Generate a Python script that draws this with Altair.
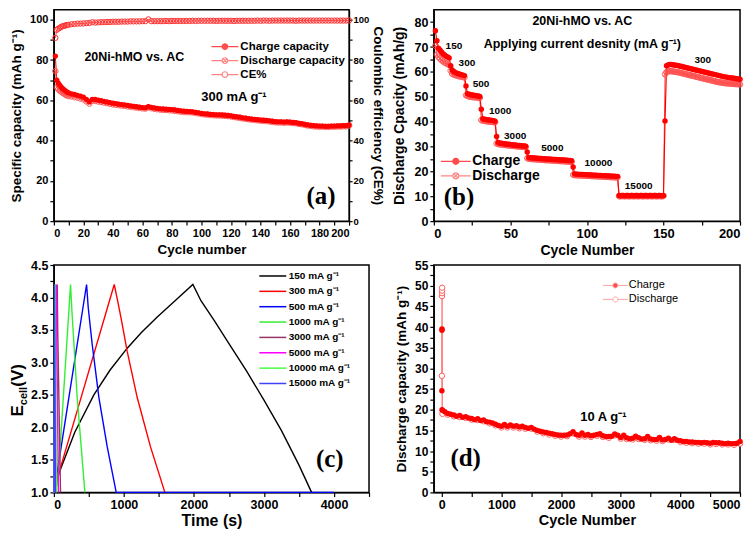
import altair as alt
import pandas as pd

FONT = "Liberation Sans"
SERIF = "Liberation Serif"
RED = "#FF0000"
PINK = "#FF5050"
DLINE = "#FF8080"

# ---------------- (a) cycling at 300 mA g-1 ----------------
a_cycles = [1, 2, 3, 4, 5, 6, 7, 8, 9, 10] + list(range(12, 201, 2))
a_charge = [
    82.0, 70.0, 68.5, 67.5, 66.5, 65.8, 65.2, 64.6, 64.1, 63.7,
    63.2, 62.9, 62.5, 62.1, 61.6, 60.5, 59.3, 60.5, 60.4, 60.1,
    59.8, 59.5, 59.2, 58.9, 58.6, 58.4, 58.1, 57.9, 57.7, 57.5,
    57.2, 57.0, 56.8, 56.6, 56.4, 56.3, 56.9, 56.5, 56.2, 56.0,
    55.8, 55.7, 55.6, 55.5, 55.4, 55.2, 55.0, 54.8, 54.6, 54.5,
    54.4, 54.3, 54.0, 53.8, 53.5, 53.3, 53.2, 53.0, 52.9, 52.8,
    52.8, 52.7, 52.6, 52.5, 52.3, 52.0, 51.8, 51.6, 51.3, 51.1,
    50.9, 50.7, 50.5, 50.4, 50.2, 50.1, 50.0, 49.8, 49.6, 49.4,
    49.3, 49.3, 49.2, 49.3, 49.2, 49.0, 48.9, 48.6, 48.4, 48.1,
    47.8, 47.6, 47.4, 47.3, 47.2, 47.2, 47.1, 47.1, 47.2, 47.2,
    47.3, 47.3, 47.4, 47.4, 47.8]
a_discharge = [
    74.5, 66.5, 65.5, 64.8, 64.2, 63.7, 63.2, 62.8, 62.4, 62.1,
    61.9, 61.6, 61.3, 60.9, 60.5, 59.5, 58.4, 59.8, 59.7, 59.4,
    59.2, 58.9, 58.6, 58.3, 58.0, 57.8, 57.6, 57.4, 57.2, 57.0,
    56.8, 56.6, 56.4, 56.2, 56.0, 55.9, 56.5, 56.1, 55.8, 55.6,
    55.4, 55.3, 55.2, 55.1, 55.0, 54.8, 54.6, 54.4, 54.2, 54.1,
    54.1, 54.0, 53.7, 53.5, 53.2, 53.0, 52.9, 52.7, 52.6, 52.5,
    52.5, 52.4, 52.3, 52.2, 52.0, 51.7, 51.5, 51.3, 51.0, 50.8,
    50.6, 50.4, 50.2, 50.1, 49.9, 49.8, 49.7, 49.5, 49.3, 49.1,
    49.0, 49.0, 48.9, 49.0, 48.9, 48.7, 48.6, 48.3, 48.1, 47.8,
    47.5, 47.3, 47.1, 47.0, 46.9, 46.9, 46.8, 46.8, 46.9, 46.9,
    47.0, 47.0, 47.1, 47.1, 47.5]
a_ce = [
    91.0, 95.0, 95.6, 96.0, 96.5, 96.8, 97.0, 97.2, 97.4, 97.5,
    97.8, 97.9, 98.1, 98.1, 98.2, 98.3, 98.4, 98.8, 98.6, 98.7,
    98.8, 98.8, 98.9, 98.9, 99.0, 99.0, 99.0, 99.1, 99.1, 99.1,
    99.2, 99.2, 99.2, 99.2, 99.3, 99.3, 100.2, 99.3, 99.3, 99.3,
    99.3, 99.3, 99.4, 99.3, 99.4, 99.4, 99.4, 99.4, 99.4, 99.4,
    99.4, 99.5, 99.4, 99.5, 99.5, 99.5, 99.5, 99.5, 99.5, 99.4,
    99.5, 99.5, 99.5, 99.5, 99.5, 99.4, 99.5, 99.5, 99.5, 99.5,
    99.5, 99.5, 99.5, 99.6, 99.5, 99.6, 99.6, 99.5, 99.6, 99.6,
    99.6, 99.6, 99.6, 99.6, 99.6, 99.6, 99.5, 99.6, 99.6, 99.6,
    99.6, 99.6, 99.6, 99.6, 99.6, 99.6, 99.6, 99.6, 99.6, 99.6,
    99.6, 99.6, 99.6, 99.6, 99.7]
a_legend = ["Charge capacity", "Discharge capacity", "CE%"]
a_x_ticks = [0, 10, 20, 30, 40, 50, 60, 70, 80, 90, 100, 110, 120, 130, 140, 150, 160, 170, 180, 190, 200]
a_y_ticks = [0, 10, 20, 30, 40, 50, 60, 70, 80, 90, 100]

# ---------------- (b) rate capability ----------------
b_cycles = list(range(1, 201))
b_charge = [
    76.5, 72.5, 69.5, 68.8, 68.0, 67.3, 66.8, 66.3, 66.0, 65.6,
    62.5, 60.8, 60.2, 59.8, 59.5, 59.3, 59.1, 58.9, 58.7, 58.5,
    54.3, 51.2, 51.0, 50.8, 50.7, 50.6, 50.5, 50.4, 50.3, 50.1,
    45.0, 41.2, 41.0, 40.9, 40.8, 40.7, 40.6, 40.5, 40.4, 40.2,
    34.0, 31.6, 31.4, 31.3, 31.2, 31.1, 31.0, 30.9, 30.9, 30.8,
    30.7, 30.6, 30.6, 30.5, 30.4, 30.4, 30.3, 30.2, 30.2, 30.1,
    27.8, 25.6, 25.5, 25.5, 25.4, 25.4, 25.3, 25.3, 25.2, 25.2,
    25.1, 25.1, 25.0, 25.0, 25.0, 24.9, 24.9, 24.8, 24.8, 24.8,
    24.7, 24.7, 24.6, 24.6, 24.6, 24.5, 24.5, 24.4, 24.4, 24.3,
    21.8, 19.0, 18.9, 18.9, 18.8, 18.8, 18.8, 18.7, 18.7, 18.7,
    18.6, 18.6, 18.6, 18.5, 18.5, 18.5, 18.4, 18.4, 18.4, 18.3,
    18.3, 18.3, 18.2, 18.2, 18.2, 18.1, 18.1, 18.1, 18.0, 18.0,
    10.3, 10.2, 10.3, 10.3, 10.2, 10.3, 10.3, 10.2, 10.3, 10.3,
    10.2, 10.3, 10.3, 10.2, 10.3, 10.3, 10.2, 10.3, 10.3, 10.2,
    10.3, 10.3, 10.2, 10.3, 10.3, 10.2, 10.3, 10.3, 10.2, 10.3,
    40.3, 62.5, 62.8, 63.0, 63.0, 62.9, 62.8, 62.7, 62.6, 62.5,
    62.3, 62.2, 62.0, 61.9, 61.7, 61.6, 61.4, 61.3, 61.1, 61.0,
    60.8, 60.7, 60.5, 60.4, 60.2, 60.1, 59.9, 59.8, 59.6, 59.5,
    59.3, 59.2, 59.0, 58.9, 58.7, 58.6, 58.4, 58.3, 58.1, 58.0,
    57.9, 57.8, 57.7, 57.6, 57.5, 57.4, 57.3, 57.2, 57.1, 57.0]
b_discharge = [
    70.5, 67.0, 66.0, 65.3, 64.7, 64.2, 63.8, 63.4, 63.1, 62.8,
    60.5, 59.2, 58.9, 58.7, 58.5, 58.3, 58.2, 58.0, 57.9, 57.8,
    50.6, 50.3, 50.1, 50.0, 49.9, 49.8, 49.8, 49.7, 49.6, 49.5,
    40.6, 40.4, 40.3, 40.2, 40.1, 40.0, 40.0, 39.9, 39.8, 39.7,
    31.2, 31.0, 30.9, 30.8, 30.7, 30.6, 30.6, 30.5, 30.4, 30.4,
    30.3, 30.2, 30.2, 30.1, 30.0, 30.0, 29.9, 29.9, 29.8, 29.8,
    25.3, 25.1, 25.0, 25.0, 24.9, 24.9, 24.8, 24.8, 24.7, 24.7,
    24.6, 24.6, 24.5, 24.5, 24.5, 24.4, 24.4, 24.3, 24.3, 24.3,
    24.2, 24.2, 24.1, 24.1, 24.1, 24.0, 24.0, 23.9, 23.9, 23.8,
    18.6, 18.5, 18.5, 18.4, 18.4, 18.4, 18.3, 18.3, 18.3, 18.2,
    18.2, 18.2, 18.1, 18.1, 18.1, 18.0, 18.0, 18.0, 17.9, 17.9,
    17.9, 17.8, 17.8, 17.8, 17.7, 17.7, 17.7, 17.6, 17.6, 17.6,
    10.0, 10.0, 10.1, 10.0, 10.0, 10.1, 10.0, 10.0, 10.1, 10.0,
    10.0, 10.1, 10.0, 10.0, 10.1, 10.0, 10.0, 10.1, 10.0, 10.0,
    10.1, 10.0, 10.0, 10.1, 10.0, 10.0, 10.1, 10.0, 10.0, 10.1,
    59.0, 60.0, 60.2, 60.3, 60.3, 60.2, 60.1, 60.0, 59.9, 59.8,
    59.6, 59.5, 59.3, 59.2, 59.0, 58.9, 58.7, 58.6, 58.4, 58.3,
    58.1, 58.0, 57.8, 57.7, 57.5, 57.4, 57.2, 57.1, 56.9, 56.8,
    56.6, 56.5, 56.3, 56.2, 56.0, 55.9, 55.8, 55.7, 55.6, 55.5,
    55.4, 55.4, 55.3, 55.3, 55.2, 55.2, 55.1, 55.1, 55.0, 55.0]
b_rates = ["150", "300", "500", "1000", "3000", "5000", "10000", "15000", "300"]
b_rate_x = [13.1, 21.6, 30.8, 43.3, 53.1, 77.4, 107.5, 133.8, 175.7]
b_rate_y = [70.3, 63.4, 55.3, 44.4, 34.4, 29.4, 23.2, 14.3, 64.9]
b_legend = ["Charge", "Discharge"]
b_x_ticks = [0, 25, 50, 75, 100, 125, 150, 175, 200]
b_y_ticks = [0, 5, 10, 15, 20, 25, 30, 35, 40, 45, 50, 55, 60, 65, 70, 75, 80]

# ---------------- (c) charge-discharge curves ----------------
c_names = ["150 mA g⁻¹", "300 mA g⁻¹", "500 mA g⁻¹", "1000 mA g⁻¹",
           "3000 mA g⁻¹", "5000 mA g⁻¹", "10000 mA g⁻¹", "15000 mA g⁻¹"]
c_colors = ["#000000", "#FF0000", "#0000FF", "#33EE33", "#993366", "#FF00FF", "#44FF44", "#4040FF"]
c_time = [
    [0, 71, 300, 571, 800, 1047, 1250, 1476, 1750, 1985, 2100, 2300, 2500, 2750, 3000, 3250, 3500, 3680],
    [0, 86, 405, 862, 905, 960, 1047, 1190, 1380, 1585],
    [0, 30, 214, 467, 490, 547, 643, 762, 890, 4000],
    [0, 57, 135, 238, 260, 333, 390, 443],
    [0, 5, 48, 55, 95],
    [0, 3, 35, 40, 65],
    [0, 2, 18, 21, 38],
    [0, 1, 10, 12, 22],
]
c_volt = [
    [1.0, 1.29, 1.93, 2.50, 2.88, 3.22, 3.46, 3.70, 3.97, 4.2, 3.95, 3.63, 3.29, 2.87, 2.42, 1.95, 1.42, 1.0],
    [1.0, 1.35, 2.52, 4.2, 3.98, 3.68, 3.17, 2.46, 1.7, 1.0],
    [1.0, 1.19, 2.46, 4.2, 3.85, 3.28, 2.46, 1.7, 1.0, 1.0],
    [1.0, 1.14, 2.46, 4.2, 3.75, 2.46, 1.7, 1.0],
    [1.0, 1.3, 4.2, 3.5, 1.0],
    [1.0, 1.3, 4.2, 3.6, 1.0],
    [1.0, 1.3, 4.2, 3.7, 1.0],
    [1.0, 1.3, 4.2, 3.8, 1.0],
]
c_x_ticks = [0, 500, 1000, 1500, 2000, 2500, 3000, 3500, 4000, 4500]
c_y_ticks = [1.0, 1.25, 1.5, 1.75, 2.0, 2.25, 2.5, 2.75, 3.0, 3.25, 3.5, 3.75, 4.0, 4.25, 4.5]

# ---------------- (d) long cycling at 10 A g-1 ----------------
d_charge_cycles = [1, 2, 3, 4, 10] + list(range(50, 5001, 50))
d_charge = [
    24.6, 39.2, 39.5, 20.0, 19.9,
    19.5, 19.1, 18.9, 18.7, 18.4, 18.6, 18.2, 18.3, 18.0, 17.9,
    17.6, 17.8, 17.4, 17.5, 17.1, 17.0, 16.8, 16.5, 16.2, 16.0,
    16.4, 16.0, 16.3, 16.0, 16.1, 15.8, 16.0, 15.7, 15.5, 15.7,
    15.3, 15.0, 14.8, 14.6, 14.5, 14.3, 14.2, 14.0, 13.9, 13.8,
    13.8, 13.9, 14.2, 14.7, 14.0, 13.8, 14.4, 13.8, 14.0, 13.7,
    13.8, 14.0, 14.2, 13.7, 13.5, 13.5, 13.6, 14.1, 13.8, 13.3,
    13.8, 13.2, 13.0, 13.1, 13.6, 13.2, 12.9, 13.0, 13.5, 12.9,
    12.8, 12.8, 13.3, 12.7, 12.8, 13.1, 12.6, 13.0, 12.6, 12.5,
    12.3, 12.3, 12.2, 12.2, 12.1, 12.1, 12.0, 12.1, 12.0, 11.9,
    12.1, 12.0, 12.0, 11.9, 11.8, 11.9, 11.8, 11.8, 11.9, 12.3]
d_dis_cycles = [1, 2, 3, 4, 5, 10] + list(range(100, 5001, 100))
d_discharge = [
    28.2, 47.5, 48.2, 48.8, 49.5, 19.0,
    18.8, 18.4, 18.2, 18.0, 17.6, 17.5, 17.2, 16.7, 16.2, 15.7,
    15.7, 15.7, 15.5, 15.4, 15.4, 14.7, 14.3, 14.0, 13.7, 13.5,
    13.6, 14.3, 13.5, 13.5, 13.4, 13.7, 13.4, 13.2, 13.8, 13.0,
    12.9, 12.8, 12.9, 12.7, 12.6, 12.5, 12.4, 12.8, 12.7, 12.2,
    12.0, 11.9, 11.8, 11.8, 11.6, 11.7, 11.6, 11.6, 11.5, 11.8]
d_legend = ["Charge", "Discharge"]
d_x_ticks = [0, 500, 1000, 1500, 2000, 2500, 3000, 3500, 4000, 4500, 5000]
d_y_ticks = [0, 2.5, 5, 7.5, 10, 12.5, 15, 17.5, 20, 22.5, 25, 27.5, 30, 32.5, 35, 37.5,
             40, 42.5, 45, 47.5, 50, 52.5, 55]

# ---------------- helpers ----------------
CROSS_PT = "M1,0A1,1 0 1,1 -1,0A1,1 0 1,1 1,0ZM0.7,0.7L-0.7,-0.7M-0.7,0.7L0.7,-0.7"


def leg_path(L, r, cross=False):
    p = f"M{-L},0L{-r},0M{r},0L{L},0M{r},0A{r},{r} 0 1,1 {-r},0A{r},{r} 0 1,1 {r},0Z"
    if cross:
        c = round(r * 0.7, 3)
        p += f"M{c},{c}L{-c},{-c}M{-c},{c}L{c},{-c}"
    return p


def legend_layer(names, shapes, fills, strokes, lx, ly, fsize, weight, offset, rowpad, sw=1.2):
    leg = alt.Legend(title=None, orient="none", legendX=lx, legendY=ly, labelFontSize=fsize,
                     labelFont=FONT, labelFontWeight=weight, labelColor="black",
                     symbolSize=100, symbolStrokeWidth=sw, symbolFillColor="white",
                     symbolStrokeColor=RED, labelOffset=offset, rowPadding=rowpad, padding=0)
    df = pd.DataFrame({"s": names})
    return alt.Chart(df).transform_filter("false").mark_point(size=100, strokeWidth=sw).encode(
        shape=alt.Shape("s:N", scale=alt.Scale(domain=names, range=shapes), legend=leg),
        fill=alt.Fill("s:N", scale=alt.Scale(domain=names, range=fills), legend=leg),
        stroke=alt.Stroke("s:N", scale=alt.Scale(domain=names, range=strokes), legend=leg),
    )


def text_layer(labels, xs, ys, xenc, yenc, size, font=FONT, weight="bold"):
    df = pd.DataFrame({"x": xs, "y": ys, "t": labels})
    return alt.Chart(df).mark_text(font=font, fontSize=size, fontWeight=weight, color="black",
                                   align="center", baseline="middle").encode(
        x=xenc("x"), y=yenc("y"), text="t:N")


def mk_x(scale, axis):
    return lambda f: alt.X(f, type="quantitative", scale=scale, axis=axis)


def mk_y(scale, axis):
    return lambda f: alt.Y(f, type="quantitative", scale=scale, axis=axis)


# ---------------- panel (a) ----------------
a_df = pd.DataFrame({"cycle": a_cycles, "charge": a_charge, "discharge": a_discharge, "ce": a_ce})
xa = mk_x(alt.Scale(domain=[0, 200], nice=False),
          alt.Axis(values=a_x_ticks, labelExpr="datum.value % 20 == 0 ? datum.label : ''",
                   title="Cycle number", labelFontSize=11, titleFontSize=13.5, tickSize=4,
                   labelPadding=2, titlePadding=4))
ya = mk_y(alt.Scale(domain=[0, 105], nice=False),
          alt.Axis(values=a_y_ticks, labelExpr="datum.value % 20 == 0 ? datum.label : ''",
                   title="Specific capacity (mAh g⁻¹)", labelFontSize=11, titleFontSize=13.5,
                   tickSize=4, labelPadding=2, titlePadding=6))
ya2 = mk_y(alt.Scale(domain=[0, 105], nice=False),
           alt.Axis(orient="right", values=a_y_ticks, labelExpr="datum.value % 20 == 0 ? datum.label : ''",
                    title="Coulombic efficiency (CE%)", labelFontSize=9.5, titleFontSize=13.5,
                    tickSize=3, labelPadding=1, titlePadding=2))
base_a = alt.Chart(a_df)
cap_a = alt.layer(
    base_a.mark_line(color=RED, strokeWidth=1).encode(x=xa("cycle"), y=ya("charge")),
    base_a.mark_line(color=PINK, strokeWidth=1).encode(x=xa("cycle"), y=ya("discharge")),
    base_a.mark_point(shape=CROSS_PT, size=30, filled=False, color=PINK, strokeWidth=1, opacity=1).encode(
        x=xa("cycle"), y=ya("discharge")),
    base_a.mark_point(shape="circle", size=28, filled=True, color=RED, opacity=1).encode(
        x=xa("cycle"), y=ya("charge")),
    text_layer(["20Ni-hMO vs. AC"], [54.5], [81.4], xa, ya, 12.5),
    text_layer(["300 mA g⁻¹"], [122], [61.6], xa, ya, 13),
    text_layer(["(a)"], [181], [12.5], xa, ya, 25, font=SERIF),
    legend_layer(a_legend, [leg_path(2.7, 0.56), leg_path(2.7, 0.56, True), leg_path(2.7, 0.56)],
                 [RED, "white", "white"], [RED, PINK, PINK],
                 165.5, 31, 11.5, "bold", 9.5, 2),
)
ce_a = alt.layer(
    base_a.mark_line(color=PINK, strokeWidth=1).encode(x=xa("cycle"), y=ya2("ce")),
    base_a.mark_point(shape="circle", size=28, filled=False, color="#FF3030", strokeWidth=1, opacity=1).encode(
        x=xa("cycle"), y=ya2("ce")),
)
panel_a = alt.layer(cap_a, ce_a).resolve_scale(y="independent").properties(width=296, height=212)

# ---------------- panel (b) ----------------
b_df = pd.DataFrame({"cycle": b_cycles, "charge": b_charge, "discharge": b_discharge})
xb = mk_x(alt.Scale(domain=[0, 200], nice=False),
          alt.Axis(values=b_x_ticks, labelExpr="datum.value % 50 == 0 ? datum.label : ''",
                   title="Cycle Number", labelFontSize=13, titleFontSize=14, tickSize=4,
                   labelPadding=2, titlePadding=3))
yb = mk_y(alt.Scale(domain=[0, 85], nice=False),
          alt.Axis(values=b_y_ticks, labelExpr="datum.value % 10 == 0 ? datum.label : ''",
                   title="Discharge Cpacity (mAh/g)", labelFontSize=12.5, titleFontSize=14,
                   tickSize=4, labelPadding=2, titlePadding=8))
base_b = alt.Chart(b_df)
panel_b = alt.layer(
    base_b.mark_line(color=PINK, strokeWidth=1).encode(x=xb("cycle"), y=yb("discharge")),
    base_b.mark_line(color=RED, strokeWidth=1.2).encode(x=xb("cycle"), y=yb("charge")),
    base_b.mark_point(shape=CROSS_PT, size=30, filled=False, color=PINK, strokeWidth=1, opacity=1).encode(
        x=xb("cycle"), y=yb("discharge")),
    base_b.mark_point(shape="circle", size=30, filled=True, color=RED, opacity=1).encode(
        x=xb("cycle"), y=yb("charge")),
    text_layer(["20Ni-hMO vs. AC"], [97], [80.4], xb, yb, 12.5),
    text_layer(["Applying current desnity (mA g⁻¹)"], [97], [71.1], xb, yb, 12.5),
    text_layer(b_rates, b_rate_x, b_rate_y, xb, yb, 10),
    text_layer(["(b)"], [16.4], [9.7], xb, yb, 25, font=SERIF),
    legend_layer(b_legend, [leg_path(3, 0.6), leg_path(3, 0.6, True)],
                 [RED, "white"], [RED, PINK], 15, 145, 14, "bold", 9.5, 0.6),
).properties(width=307, height=212)

# ---------------- panel (c) ----------------
c_rows = []
for name, ts, vs in zip(c_names, c_time, c_volt):
    for t, v in zip(ts, vs):
        c_rows.append({"t": t, "v": v, "s": name})
c_df = pd.DataFrame(c_rows)
xc = mk_x(alt.Scale(domain=[0, 4500], nice=False),
          alt.Axis(values=c_x_ticks, format="d", labelExpr="datum.value % 1000 == 0 ? datum.label : ''",
                   title="Time (s)", labelFontSize=12.5, titleFontSize=16, tickSize=4,
                   labelPadding=2, titlePadding=2))
yc = mk_y(alt.Scale(domain=[1.0, 4.5], nice=False, zero=False),
          alt.Axis(values=c_y_ticks,
                   labelExpr="(datum.value * 2) % 1 == 0 ? format(datum.value, '.1f') : ''",
                   title=None, labelFontSize=12.5, tickSize=4, labelPadding=2))
leg_c = alt.Legend(title=None, orient="none", legendX=213.5, legendY=5, labelFontSize=10,
                   labelFont=FONT, labelFontWeight="bold", labelColor="black",
                   symbolType="M-2.7,0L2.7,0", symbolSize=100, symbolStrokeWidth=1.5,
                   labelOffset=10, rowPadding=4.4, padding=0)
panel_c = alt.layer(
    alt.Chart(c_df).mark_line(strokeWidth=1.4).encode(
        x=xc("t"), y=yc("v"),
        color=alt.Color("s:N", scale=alt.Scale(domain=c_names, range=c_colors), legend=leg_c)),
    text_layer(["(c)"], [3940], [1.52], xc, yc, 25, font=SERIF),
    alt.Chart(pd.DataFrame({"t": ["E"]})).mark_text(
        angle=270, align="left", baseline="alphabetic", font=FONT, fontSize=17,
        fontWeight="bold", color="black").encode(x=alt.value(-31), y=alt.value(152), text="t:N"),
    alt.Chart(pd.DataFrame({"t": ["cell"]})).mark_text(
        angle=270, align="left", baseline="alphabetic", font=FONT, fontSize=11,
        fontWeight="bold", color="black").encode(x=alt.value(-27), y=alt.value(140.5), text="t:N"),
    alt.Chart(pd.DataFrame({"t": ["(V)"]})).mark_text(
        angle=270, align="left", baseline="alphabetic", font=FONT, fontSize=17,
        fontWeight="bold", color="black").encode(x=alt.value(-31), y=alt.value(122), text="t:N"),
).properties(width=316, height=228)

# ---------------- panel (d) ----------------
dc_df = pd.DataFrame({"cycle": d_charge_cycles, "cap": d_charge})
dd_df = pd.DataFrame({"cycle": d_dis_cycles, "cap": d_discharge})
xd = mk_x(alt.Scale(domain=[-134, 5000], nice=False, zero=False),
          alt.Axis(values=d_x_ticks, format="d", labelExpr="datum.value % 1000 == 0 ? datum.label : ''",
                   title="Cycle Number", labelFontSize=12.5, titleFontSize=14.5, tickSize=4,
                   labelPadding=2, titlePadding=3))
yd = mk_y(alt.Scale(domain=[0, 55], nice=False),
          alt.Axis(values=d_y_ticks, labelExpr="datum.value % 5 == 0 ? datum.label : ''",
                   title="Discharge capacity (mAh g⁻¹)", labelFontSize=12, titleFontSize=13.5,
                   tickSize=4, labelPadding=2, titlePadding=6))
panel_d = alt.layer(
    alt.Chart(dc_df).mark_line(color=DLINE, strokeWidth=1).encode(x=xd("cycle"), y=yd("cap")),
    alt.Chart(dd_df).mark_line(color=DLINE, strokeWidth=1).encode(x=xd("cycle"), y=yd("cap")),
    alt.Chart(dd_df).mark_point(shape="circle", size=30, fill="white", stroke="#FF6060",
                                strokeWidth=1, opacity=1).encode(x=xd("cycle"), y=yd("cap")),
    alt.Chart(dc_df).mark_point(shape="circle", size=30, filled=True, color=RED, opacity=1).encode(
        x=xd("cycle"), y=yd("cap")),
    text_layer(["10 A g⁻¹"], [2708], [18.2], xd, yd, 13),
    text_layer(["(d)"], [399], [8.3], xd, yd, 25, font=SERIF),
    legend_layer(d_legend, [leg_path(2.5, 0.5), leg_path(2.5, 0.5)],
                 [RED, "white"], [DLINE, DLINE], 176.5, 15, 11, "normal", 8, 2, sw=1.0),
).properties(width=307, height=228)

chart = alt.ConcatChart(
    concat=[panel_a, panel_b, panel_c, panel_d], columns=2,
    spacing={"row": 28, "column": 65}, bounds="flush", align="all",
    padding={"left": 0, "top": 0, "right": 2, "bottom": 0},
).resolve_scale(color="independent", shape="independent", fill="independent", stroke="independent"
).configure_view(stroke="black", strokeWidth=1.5
).configure_axis(grid=False, domainColor="black", tickColor="black", labelColor="black",
                 titleColor="black", labelFont=FONT, titleFont=FONT, labelFontWeight="bold",
                 titleFontWeight="bold", domainWidth=1.2, tickWidth=1.2)

chart.save("out.html", embed_options={"renderer": "svg", "actions": False})
